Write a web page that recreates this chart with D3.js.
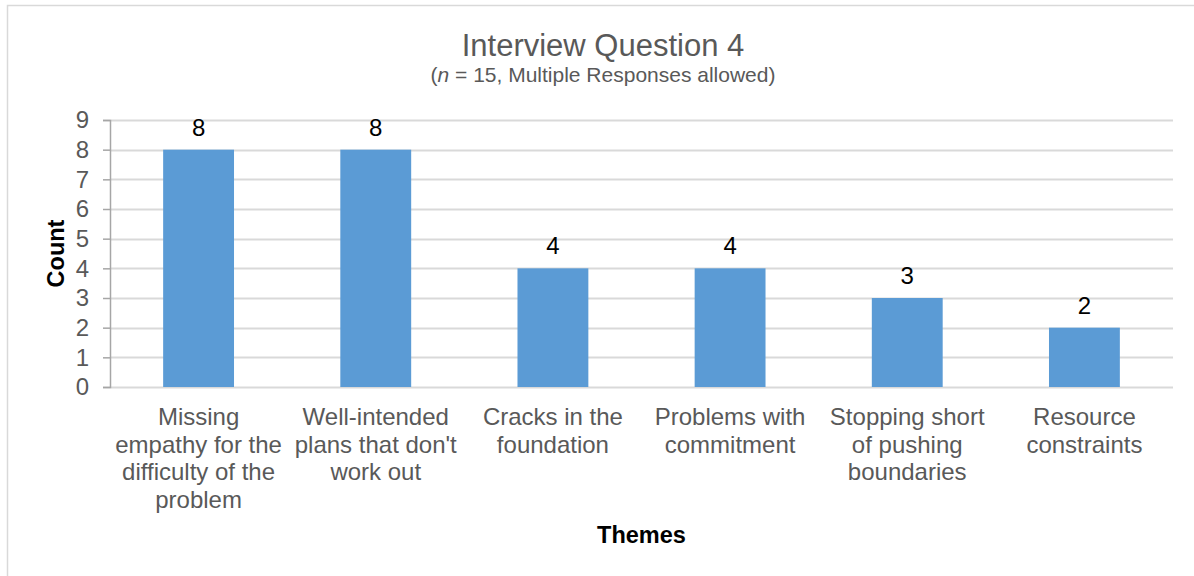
<!DOCTYPE html>
<html>
<head>
<meta charset="utf-8">
<script src="https://cdn.jsdelivr.net/npm/d3@7"></script>
<style>
  html, body { margin: 0; padding: 0; background: #fff; overflow: hidden; }
  svg { display: block; font-family: 'Liberation Sans', Arial, sans-serif; }
</style>
</head>
<body>
<svg id="chart"></svg>
<script>
const categories = [
  'Missing\nempathy for the\ndifficulty of the\nproblem',
  "Well-intended\nplans that don't\nwork out",
  'Cracks in the\nfoundation',
  'Problems with\ncommitment',
  'Stopping short\nof pushing\nboundaries',
  'Resource\nconstraints'
]
const counts = [8, 8, 4, 4, 3, 2]
const yTicks = [0, 1, 2, 3, 4, 5, 6, 7, 8, 9]

const width = 1194
const height = 576
const margin = { top: 120, right: 21, bottom: 189, left: 110 }

const svg = d3.select('#chart')
  .attr('width', width)
  .attr('height', height)

// chart frame
svg.append('rect')
  .attr('x', 7.5)
  .attr('y', 5.5)
  .attr('width', 1200)
  .attr('height', 600)
  .attr('fill', '#fff')
  .attr('stroke', '#d9d9d9')
  .attr('stroke-width', 1.5)

const x = d3.scaleBand()
  .domain(categories)
  .range([margin.left, width - margin.right])
  .paddingInner(0.6)
  .paddingOuter(0.3)

const y = d3.scaleLinear()
  .domain([0, 9])
  .range([height - margin.bottom, margin.top])

// gridlines
svg.append('g')
  .selectAll('line')
  .data(yTicks)
  .enter()
  .append('line')
  .attr('x1', margin.left)
  .attr('x2', width - margin.right)
  .attr('y1', d => Math.round(y(d)) + 0.5)
  .attr('y2', d => Math.round(y(d)) + 0.5)
  .attr('stroke', '#d9d9d9')
  .attr('stroke-width', 2)

// y axis
const yAxis = d3.axisLeft(y).tickValues(yTicks).tickSize(7).tickPadding(14)
svg.append('g')
  .attr('transform', `translate(${margin.left},0)`)
  .call(yAxis)
  .call(g => g.selectAll('path, line').attr('stroke', '#a6a6a6').attr('stroke-width', 1.5))
  .call(g => g.selectAll('text')
    .attr('fill', '#595959')
    .style('font-size', '24px')
    .style('font-family', "'Liberation Sans', Arial, sans-serif"))

// bars
svg.append('g')
  .selectAll('rect')
  .data(counts)
  .enter()
  .append('rect')
  .attr('x', (d, i) => x(categories[i]))
  .attr('y', d => y(d))
  .attr('width', x.bandwidth())
  .attr('height', d => y(0) - y(d))
  .attr('fill', '#5b9bd5')

// value labels
svg.append('g')
  .selectAll('text')
  .data(counts)
  .enter()
  .append('text')
  .attr('x', (d, i) => x(categories[i]) + x.bandwidth() / 2)
  .attr('y', d => y(d) - 14)
  .attr('text-anchor', 'middle')
  .attr('fill', '#000')
  .style('font-size', '24px')
  .text(d => d)

// x axis labels
const xAxis = d3.axisBottom(x).tickSize(0).tickFormat('')
svg.append('g')
  .attr('transform', `translate(0,${y(0)})`)
  .call(xAxis)
  .call(g => g.select('.domain').remove())

const catLabels = svg.append('g')
  .selectAll('text')
  .data(categories)
  .enter()
  .append('text')
  .attr('x', d => x(d) + x.bandwidth() / 2)
  .attr('y', y(0) + 38)
  .attr('text-anchor', 'middle')
  .attr('fill', '#595959')
  .style('font-size', '24px')

catLabels.selectAll('tspan')
  .data(d => d.split('\n'))
  .enter()
  .append('tspan')
  .attr('x', function () { return d3.select(this.parentNode).attr('x') })
  .attr('dy', (d, i) => i === 0 ? 0 : 27.5)
  .text(d => d)

// axis titles
svg.append('text')
  .attr('x', (margin.left + width - margin.right) / 2)
  .attr('y', 543)
  .attr('text-anchor', 'middle')
  .attr('fill', '#000')
  .style('font-size', '23.5px')
  .style('font-weight', 'bold')
  .text('Themes')

svg.append('text')
  .attr('transform', `translate(64,${(y(0) + y(9)) / 2}) rotate(-90)`)
  .attr('text-anchor', 'middle')
  .attr('fill', '#000')
  .style('font-size', '23.5px')
  .style('font-weight', 'bold')
  .text('Count')

// title
svg.append('text')
  .attr('x', 603)
  .attr('y', 56)
  .attr('text-anchor', 'middle')
  .attr('fill', '#595959')
  .style('font-size', '31px')
  .text('Interview Question 4')

const sub = svg.append('text')
  .attr('x', 603)
  .attr('y', 82)
  .attr('text-anchor', 'middle')
  .attr('fill', '#595959')
  .style('font-size', '21px')
sub.append('tspan').text('(')
sub.append('tspan').style('font-style', 'italic').text('n')
sub.append('tspan').text(' = 15, Multiple Responses allowed)')
</script>
</body>
</html>
